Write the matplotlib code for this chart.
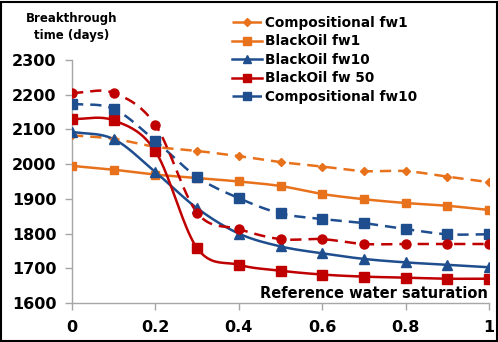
import numpy as np
import matplotlib
matplotlib.use("Agg")
import matplotlib.pyplot as plt
from matplotlib.patches import Rectangle

plt.rcParams['font.family'] = ['DejaVu Sans']

x = [0, 0.1, 0.2, 0.3, 0.4, 0.5, 0.6, 0.7, 0.8, 0.9, 1.0]
comp_fw1 = [2083, 2073, 2050, 2038, 2023, 2006, 1993, 1980, 1980, 1964, 1948]
bo_fw1 = [1995, 1984, 1970, 1960, 1950, 1937, 1914, 1899, 1888, 1880, 1868]
bo_fw10 = [2093, 2072, 1977, 1873, 1800, 1763, 1743, 1727, 1717, 1710, 1703]
bo_fw50 = [2130, 2126, 2037, 1758, 1710, 1693, 1682, 1676, 1673, 1670, 1670]
comp_fw10 = [2174, 2159, 2067, 1963, 1902, 1858, 1842, 1830, 1813, 1798, 1798]
comp_fw50 = [2205, 2205, 2113, 1860, 1813, 1784, 1784, 1770, 1770, 1770, 1770]

labels = ["Compositional fw1", "BlackOil fw1", "BlackOil fw10",
          "BlackOil fw 50", "Compositional fw10"]
xticks = [0, 0.2, 0.4, 0.6, 0.8, 1]
yticks = [1600, 1700, 1800, 1900, 2000, 2100, 2200, 2300]

ORANGE = "#E8711C"
BLUE = "#1F4E8F"
RED = "#C00000"


def smooth(xs, ys, n=20, t=0.5):
    xs = np.asarray(xs, float)
    ys = np.asarray(ys, float)
    px = np.concatenate([[2 * xs[0] - xs[1]], xs, [2 * xs[-1] - xs[-2]]])
    py = np.concatenate([[2 * ys[0] - ys[1]], ys, [2 * ys[-1] - ys[-2]]])
    ox, oy = [], []
    for i in range(1, len(px) - 2):
        p0x, p1x, p2x, p3x = px[i - 1:i + 3]
        p0y, p1y, p2y, p3y = py[i - 1:i + 3]
        c1x = p1x + (p2x - p0x) * t / 3
        c1y = p1y + (p2y - p0y) * t / 3
        c2x = p2x - (p3x - p1x) * t / 3
        c2y = p2y - (p3y - p1y) * t / 3
        s = np.linspace(0, 1, n, endpoint=(i == len(px) - 3))
        bx = (1 - s) ** 3 * p1x + 3 * (1 - s) ** 2 * s * c1x + 3 * (1 - s) * s ** 2 * c2x + s ** 3 * p2x
        by = (1 - s) ** 3 * p1y + 3 * (1 - s) ** 2 * s * c1y + 3 * (1 - s) * s ** 2 * c2y + s ** 3 * p2y
        ox.extend(bx)
        oy.extend(by)
    return ox, oy


fig = plt.figure(figsize=(4.98, 3.42), dpi=100)
ax = fig.add_axes([0.1446, 0.114, 0.8374, 0.7106])

series = [
    (comp_fw1, ORANGE, "--", "D", 4, labels[0]),
    (bo_fw1, ORANGE, "-", "s", 6, labels[1]),
    (bo_fw10, BLUE, "-", "^", 6.5, labels[2]),
    (bo_fw50, RED, "-", "s", 7, labels[3]),
    (comp_fw10, BLUE, "--", "s", 7, labels[4]),
    (comp_fw50, RED, "--", "o", 6.5, None),
]

handles = []
for ys, c, ls, mk, ms, lab in series:
    sx, sy = smooth(x, ys)
    ax.plot(sx, sy, color=c, ls=ls, lw=1.8, dashes=(4.5, 2.8) if ls == "--" else (None, None), zorder=2)
    ax.plot(x, ys, ls="none", marker=mk, color=c, ms=ms, zorder=3)
    if lab:
        h, = ax.plot([], [], color=c, ls=ls, lw=1.8, marker=mk, ms=ms * 0.9, label=lab)
        if ls == "--":
            h.set_dashes((4.5, 2.8))
        handles.append(h)

ax.set_xlim(0, 1)
ax.set_ylim(1600, 2300)
ax.set_xticks(xticks)
ax.set_xticklabels(["0", "0.2", "0.4", "0.6", "0.8", "1"])
ax.set_yticks(yticks)
for sp in ["top", "right"]:
    ax.spines[sp].set_visible(False)
for sp in ["left", "bottom"]:
    ax.spines[sp].set_color("#A6A6A6")
    ax.spines[sp].set_linewidth(1)
ax.tick_params(axis="both", colors="#A6A6A6", length=5, width=1,
               labelcolor="black", labelsize=11.5)
ax.tick_params(axis="x", pad=7)
ax.tick_params(axis="y", pad=6)
for lbl in ax.get_xticklabels() + ax.get_yticklabels():
    lbl.set_fontweight("bold")

ax.text(0.998, 0.008, "Reference water saturation", transform=ax.transAxes,
        ha="right", va="bottom", fontsize=10.5, fontweight="bold")
fig.text(72 / 498, 1 - 27 / 342, "Breakthrough\ntime (days)", ha="center", va="center",
         fontsize=8.5, fontweight="bold", linespacing=1.4)

leg = fig.legend(handles=handles, loc="upper left", bbox_to_anchor=(232 / 498, 1 - 16 / 342),
                 frameon=False, fontsize=9.8, handlelength=2.2, handletextpad=0.2,
                 labelspacing=0.33, borderaxespad=0, borderpad=0)
for t in leg.get_texts():
    t.set_fontweight("bold")

fig.patches.append(Rectangle((0.003, 0.004), 0.994, 0.99, transform=fig.transFigure,
                             fill=False, edgecolor="black", lw=1.5))

fig.savefig("out.png", dpi=100)
